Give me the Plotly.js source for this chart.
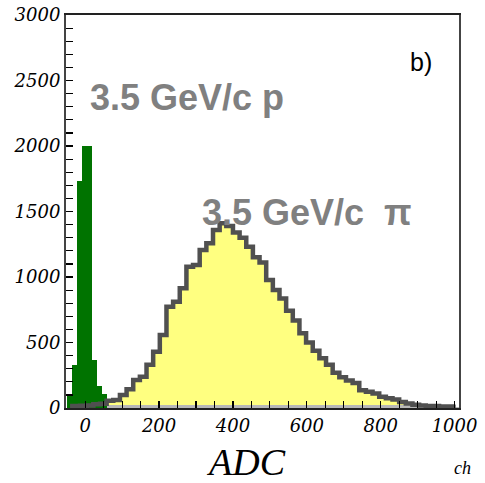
<!DOCTYPE html>
<html>
<head>
<meta charset="utf-8">
<script src="https://cdn.plot.ly/plotly-3.0.1.min.js"></script>
<style>html,body{margin:0;padding:0;background:#fff;}#chart{width:485px;height:483px;}</style>
</head>
<body>
<div id="chart"></div>
<script>
// Pion histogram (3.5 GeV/c pi), bin centers in ADC channels
const pionBins = [-41,-23,-5,13,31,49,67,85,103,121,139,157,175,193,211,229,247,265,283,301,319,337,355,373,391,409,427,445,463,481,499,517,535,553,571,589,607,625,643,661,679,697,715,733,751,769,787,805,823,841,859,877,895,913,931,949,967,985,1003];
const pionCounts = [15,15,18,20,28,32,55,62,100,143,214,239,330,430,557,773,811,914,1079,1092,1206,1257,1359,1410,1390,1340,1300,1231,1150,1110,977,901,835,742,668,570,500,437,380,330,270,235,210,190,135,125,110,85,75,65,45,35,25,20,15,15,12,12,10];
// Proton histogram (3.5 GeV/c p)
const protonBins = [-41.25,-27.75,-14.25,-0.75,12.75,26.25,39.75,53.25];
const protonCounts = [100,330,1730,2000,2000,370,170,110];
// Axis ticks (labelled) and minor tick positions
const xTicks = [0,200,400,600,800,1000];
const yTicks = [0,500,1000,1500,2000,2500,3000];
const xMinor = [-50,0,50,100,150,200,250,300,350,400,450,500,550,600,650,700,750,800,850,900,950,1000];
const yMinor = [0,100,200,300,400,500,600,700,800,900,1000,1100,1200,1300,1400,1500,1600,1700,1800,1900,2000,2100,2200,2300,2400,2500,2600,2700,2800,2900,3000];

const grayBand = pionCounts.map(v => Math.min(v, 22));

const traces = [
  {type:'bar', x:pionBins, y:pionCounts, width:18, marker:{color:'#ffff80', line:{width:0}}, hoverinfo:'skip'},
  {type:'bar', x:pionBins, y:grayBand, width:18, marker:{color:'#b8b8b8', line:{width:0}}, hoverinfo:'skip'},
  {type:'bar', x:protonBins, y:protonCounts, width:13.5, marker:{color:'#007300', line:{width:0}}, hoverinfo:'skip'},
  {type:'scatter', mode:'lines', x:pionBins, y:pionCounts, line:{shape:'hvh', color:'#505050', width:4.5}, hoverinfo:'skip'}
];

const layout = {
  width:485, height:483,
  margin:{l:66, r:26, t:15, b:75},
  paper_bgcolor:'#fff', plot_bgcolor:'#fff',
  showlegend:false,
  barmode:'overlay', bargap:0,
  xaxis:{
    range:[-52,1012], tickmode:'array', tickvals:xMinor,
    ticktext:xMinor.map(v => xTicks.includes(v) ? String(v) : ''),
    ticks:'inside', ticklen:7, tickwidth:1.2, tickcolor:'#000',
    showgrid:false, zeroline:false,
    showline:true, linecolor:'#222', linewidth:2, mirror:true,
    tickfont:{family:'DejaVu Serif', size:18, color:'#000', style:'italic'}
  },
  yaxis:{
    range:[0,3000], tickmode:'array', tickvals:yMinor,
    ticktext:yMinor.map(v => yTicks.includes(v) ? String(v) : ''),
    ticks:'inside', ticklen:7, tickwidth:1.2, tickcolor:'#000',
    showgrid:false, zeroline:false,
    showline:true, linecolor:'#444', linewidth:2, mirror:true,
    tickfont:{family:'DejaVu Serif', size:18, color:'#000', style:'italic'}
  },
  annotations:[
    {x:8, y:2374, xref:'x', yref:'y', xanchor:'left', yanchor:'middle', showarrow:false,
     text:'<b>3.5 GeV/c p</b>', font:{family:'Liberation Sans', size:36, color:'#808080'}},
    {x:312, y:1490, xref:'x', yref:'y', xanchor:'left', yanchor:'middle', showarrow:false,
     text:'<b>3.5 GeV/c  π</b>', font:{family:'Liberation Sans', size:36, color:'#808080'}},
    {x:908, y:2641, xref:'x', yref:'y', xanchor:'center', yanchor:'middle', showarrow:false,
     text:'b)', font:{family:'Liberation Sans', size:25, color:'#000'}},
    {x:0.458, y:-0.138, xref:'paper', yref:'paper', xanchor:'center', yanchor:'middle', showarrow:false,
     text:'ADC', font:{family:'Liberation Serif', size:38, color:'#000', style:'italic'}},
    {x:1.01, y:-0.152, xref:'paper', yref:'paper', xanchor:'center', yanchor:'middle', showarrow:false,
     text:'ch', font:{family:'Liberation Serif', size:18, color:'#000', style:'italic'}}
  ]
};

Plotly.newPlot('chart', traces, layout, {displayModeBar:false, staticPlot:true});
</script>
</body>
</html>
